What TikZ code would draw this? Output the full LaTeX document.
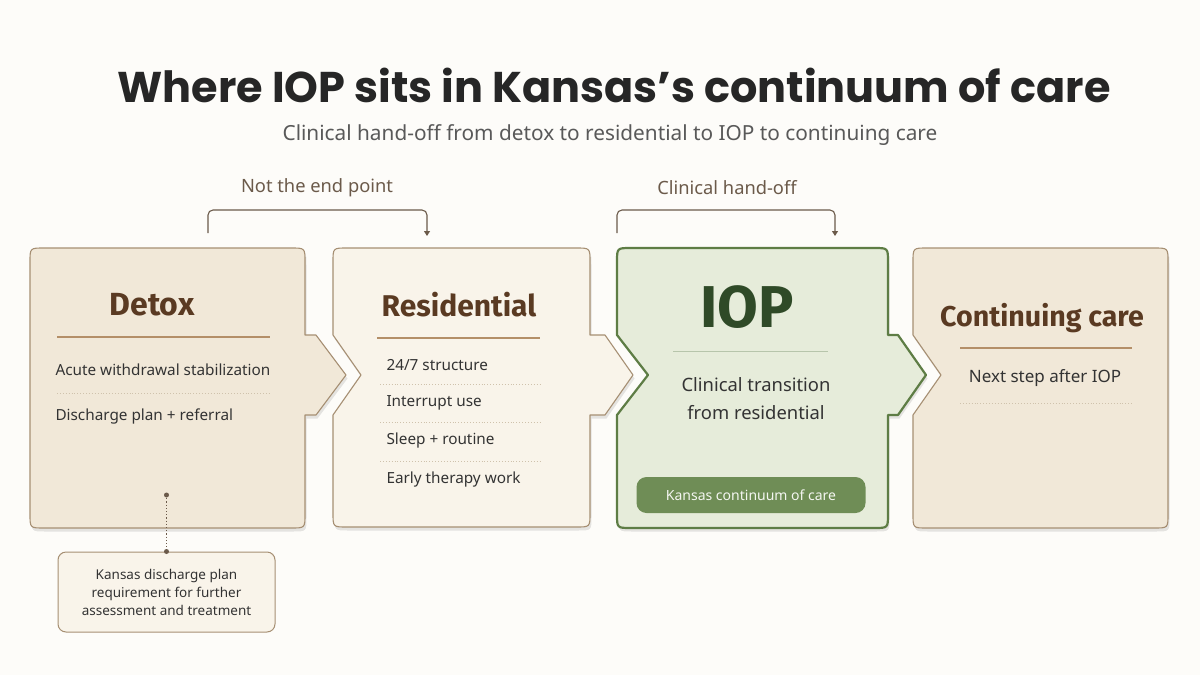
\documentclass[tikz,border=0pt]{standalone}
\usepackage{fontspec}
\setmainfont{Noto Sans}
\newfontfamily\titlefont{Poppins}
\newfontfamily\headfont{Fira Sans}
\usetikzlibrary{arrows.meta,shadows}

\definecolor{paper}{HTML}{FDFCF9}
\definecolor{beige}{HTML}{F1E8D8}
\definecolor{cream}{HTML}{F9F4EA}
\definecolor{sage}{HTML}{E6ECDA}
\definecolor{edge}{HTML}{A68F73}
\definecolor{moss}{HTML}{5E7D45}
\definecolor{pillgreen}{HTML}{6F8D56}
\definecolor{cocoa}{HTML}{5A3A22}
\definecolor{rulebrown}{HTML}{B48F68}
\definecolor{dotgray}{HTML}{CFC2AC}
\definecolor{ink}{HTML}{333333}
\definecolor{forest}{HTML}{2F4A27}
\definecolor{notebrown}{HTML}{6B5A4A}

\begin{document}
\begin{tikzpicture}[x=1pt, y=-1pt, line join=round,
    stage/.style={draw=edge, line width=1.1pt, drop shadow={shadow xshift=1.5pt, shadow yshift=-3.5pt, opacity=0.2}},
    head/.style={font=\headfont\bfseries\fontsize{30}{32}\selectfont, text=cocoa},
    item/.style={anchor=west, font=\fontsize{15.3}{18}\selectfont, text=ink},
    sep/.style={draw=dotgray, dotted, line width=0.9pt},
    bar/.style={draw=rulebrown, line width=1.2pt},
    bracket/.style={draw=notebrown, line width=1.1pt, rounded corners=5pt, -{Triangle[width=6pt,length=5pt]}},
    tag/.style={font=\fontsize{18.3}{20}\selectfont, text=notebrown}]
  % background
  \fill[paper] (0,0) rectangle (1200,675);
  \useasboundingbox (0,0) rectangle (1200,675);

  % title
  \node[font=\titlefont\bfseries\fontsize{43}{46}\selectfont, text=black!85] (title) at (614,85) {Where IOP sits in Kansas’s continuum of care};
  \node[font=\fontsize{20.8}{24}\selectfont, text=black!65] (subtitle) at (610,135) {Clinical hand-off from detox to residential to IOP to continuing care};

  % stage outlines
  \draw[stage, fill=beige] (44,248) -- (291,248) .. controls (305,248) .. (305,262) -- (305,335) -- (316,335) -- (346,375) -- (316,415) -- (305,415) -- (305,514) .. controls (305,528) .. (291,528) -- (44,528) .. controls (30,528) .. (30,514) -- (30,262) .. controls (30,248) .. (44,248) -- cycle;
  \draw[stage, fill=cream] (347,248) -- (576,248) .. controls (590,248) .. (590,262) -- (590,335) -- (605,335) -- (633,375) -- (605,415) -- (590,415) -- (590,513) .. controls (590,527) .. (576,527) -- (347,527) .. controls (333,527) .. (333,513) -- (333,415) -- (361,375) -- (333,335) -- (333,262) .. controls (333,248) .. (347,248) -- cycle;
  \draw[stage, draw=moss, line width=2.2pt, fill=sage] (631,248) -- (874,248) .. controls (888,248) .. (888,262) -- (888,335) -- (898,335) -- (926,375) -- (898,415) -- (888,415) -- (888,514) .. controls (888,528) .. (874,528) -- (631,528) .. controls (617,528) .. (617,514) -- (617,415) -- (648,375) -- (617,335) -- (617,262) .. controls (617,248) .. (631,248) -- cycle;
  \draw[stage, fill=beige] (927,248) -- (1154,248) .. controls (1168,248) .. (1168,262) -- (1168,514) .. controls (1168,528) .. (1154,528) -- (927,528) .. controls (913,528) .. (913,514) -- (913,415) -- (941,375) -- (913,335) -- (913,262) .. controls (913,248) .. (927,248) -- cycle;

  % Detox
  \node[head, font=\headfont\bfseries\fontsize{32}{34}\selectfont] (detoxhead) at (152,305) {Detox};
  \draw[bar] (57,337) -- (270,337);
  \node[item] (acute) at (52,370) {Acute withdrawal stabilization};
  \draw[sep] (57,393) -- (270,393);
  \node[item] (plan) at (52,416) {Discharge plan + referral};

  % Residential
  \node[head] (reshead) at (459,305) {Residential};
  \draw[bar] (377,338) -- (540,338);
  \node[item] (structure) at (383,365) {24/7 structure};
  \draw[sep] (380,384) -- (540,384);
  \node[item] (interrupt) at (383,403) {Interrupt use};
  \draw[sep] (380,422) -- (540,422);
  \node[item] (sleep) at (383,441) {Sleep + routine};
  \draw[sep] (380,461) -- (540,461);
  \node[item] (therapy) at (383,480) {Early therapy work};

  % IOP
  \node[font=\headfont\bfseries\fontsize{59}{60}\selectfont, text=forest] (iophead) at (747,307) {IOP};
  \draw[draw=moss!45, line width=1pt] (673,351) -- (828,351);
  \node[align=center, font=\fontsize{18.4}{28}\selectfont, text=ink] (ioptext) at (756,399) {Clinical transition\\from residential};
  \node[fill=pillgreen, rounded corners=10, minimum width=229, minimum height=36, text=white!92!pillgreen, font=\fontsize{14}{16}\selectfont] (pill) at (751,495) {Kansas continuum of care};

  % Continuing care
  \node[head, font=\headfont\bfseries\fontsize{28.6}{30}\selectfont] (conthead) at (1042,318) {Continuing care};
  \draw[bar] (960,348) -- (1132,348);
  \node[font=\fontsize{17}{20}\selectfont, text=ink] (nextstep) at (1045,378) {Next step after IOP};
  \draw[sep] (960,403) -- (1132,403);

  % discharge note
  \node[draw=edge, fill=cream, rounded corners=8, line width=1pt, minimum width=217, minimum height=80, align=center, font=\fontsize{13.5}{18}\selectfont, text=ink] (note) at (166.5,592) {Kansas discharge plan\\requirement for further\\assessment and treatment};
  \coordinate (plandot) at (166.5,495);
  \draw[notebrown, dotted, line width=1.2pt] (plandot) -- (note.north);
  \fill[notebrown] (plandot) circle (2.5);
  \fill[notebrown] (note.north) circle (2.5);

  % brackets
  \node[tag] (endtag) at (317,188) {Not the end point};
  \coordinate (endfrom) at (208,233);
  \coordinate (endto) at (427,236);
  \draw[bracket] (endfrom) -- ++(0,-23) -| (endto);

  \node[tag] (handtag) at (727,188) {Clinical hand-off};
  \coordinate (handfrom) at (617,233);
  \coordinate (handto) at (835,236);
  \draw[bracket] (handfrom) -- ++(0,-23) -| (handto);
\end{tikzpicture}
\end{document}
